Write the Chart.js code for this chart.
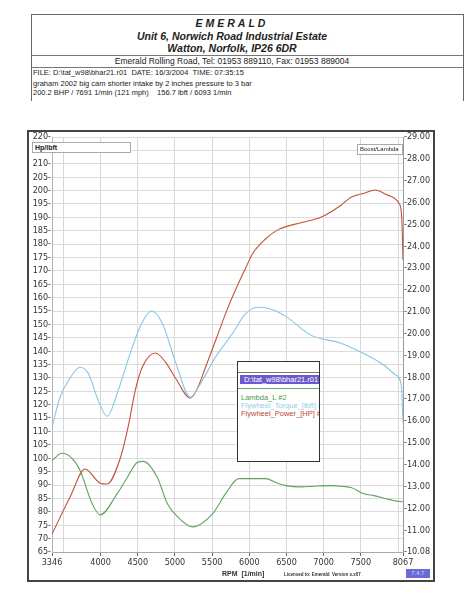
<!DOCTYPE html>
<html>
<head>
<meta charset="utf-8">
<script src="https://cdn.jsdelivr.net/npm/chart.js@4.4.1/dist/chart.umd.min.js"></script>
<style>
body { margin: 0; width: 468px; height: 600px; background: #fff; position: relative; overflow: hidden;
       font-family: "Liberation Sans", Arial, sans-serif; color: #222; }
.abs { position: absolute; white-space: nowrap; }
.ctr { text-align: center; left: 31px; width: 402px; }
#head { left: 31px; top: 14px; width: 431px; height: 86px; border: 1px solid #666; border-bottom: none; }
.hl { height: 0; border-top: 1px solid #777; left: 31px; width: 432px; }
#frame { left: 27px; top: 130px; width: 404px; height: 448px; border: 2px solid #444; }
#wrap { left: 22px; top: 128px; width: 412px; height: 458px; }
.tag { background: #fff; border: 1px solid #aaa; font-family: "Liberation Sans", Arial, sans-serif; font-size: 7px; font-weight: bold; line-height: 9px; padding-left: 2px; z-index: 3; overflow: hidden; }
#legend { left: 237px; top: 361px; width: 81px; height: 99px; border: 1px solid #333; background: #fff; z-index: 3; overflow: hidden; font-size: 7.5px; }
</style>
</head>
<body>
<div class="abs" id="head"></div>
<div class="abs ctr" style="top:17px;font-size:10.5px;font-weight:bold;font-style:italic;letter-spacing:3px">EMERALD</div>
<div class="abs ctr" style="top:30px;font-size:10.5px;font-weight:bold;font-style:italic">Unit 6, Norwich Road Industrial Estate</div>
<div class="abs ctr" style="top:42px;font-size:10.5px;font-weight:bold;font-style:italic">Watton, Norfolk, IP26 6DR</div>
<div class="abs hl" style="top:55px"></div>
<div class="abs ctr" style="top:56px;font-size:8.5px">Emerald Rolling Road, Tel: 01953 889110, Fax: 01953 889004</div>
<div class="abs hl" style="top:67px"></div>
<div class="abs" style="left:33px;top:68px;font-size:7.5px">FILE: D:\tat_w98\bhar21.r01&nbsp;&nbsp;DATE: 16/3/2004&nbsp;&nbsp;TIME: 07:35:15</div>
<div class="abs" style="left:33px;top:79px;font-size:7.5px">graham 2002 big cam shorter intake by 2 inches pressure to 3 bar</div>
<div class="abs" style="left:33px;top:88px;font-size:7.5px">200.2 BHP / 7691 1/min (121 mph)&nbsp;&nbsp;&nbsp;&nbsp;156.7 lbft / 6093 1/min</div>

<div class="abs" id="frame"></div>
<div class="abs" id="wrap"><canvas id="dyno"></canvas></div>

<div class="abs tag" style="left:32px;top:142px;width:95px;height:9px">Hp/lbft</div>
<div class="abs tag" style="left:357px;top:144px;width:42px;height:9px;font-weight:normal;font-size:6px">Boost/Lambda</div>

<div class="abs" id="legend">
  <div class="abs" style="left:0;top:10px;width:81px;border-top:1px solid #777"></div>
  <div class="abs" style="left:2px;top:13px;width:78px;height:9px;background:#6a5acd;color:#fff;line-height:9px;padding-left:4px">D:\tat_w98\bhar21.r01</div>
  <div class="abs" style="left:0;top:26px;width:81px;border-top:1px solid #6aa86a"></div>
  <div class="abs" style="left:3px;top:31px;color:#4f9a4f">Lambda_L #2</div>
  <div class="abs" style="left:3px;top:39px;color:#8fd0ea">Flywheel_Torque_[lbft] #1</div>
  <div class="abs" style="left:3px;top:47px;color:#c0452f">Flywheel_Power_[HP] #1</div>
</div>

<div class="abs" style="left:222px;top:570px;font-size:7px;font-weight:bold;color:#333">RPM&nbsp;&nbsp;[1/min]</div>
<div class="abs" style="left:284px;top:572px;font-size:4.5px;font-weight:bold;color:#333">Licensed to: Emerald&nbsp;&nbsp;Version x.x07</div>
<div class="abs" style="left:406px;top:569px;width:24px;height:9px;background:#6a6ad8;color:#cfd0ff;font-size:6px;line-height:9px;text-align:center">7.4.7</div>

<script>
// x axis: grid every 500 rpm, labels only on some
const xGridTicks = [3346, 3500, 4000, 4500, 5000, 5500, 6000, 6500, 7000, 7500, 8000, 8067];
const xLabelTicks = [3346, 4000, 4500, 5000, 5500, 6000, 6500, 7000, 7500, 8067];

// Flywheel_Power_[HP]
const powerRpm = [3346, 3589, 3791, 3994, 4088, 4264, 4372, 4466, 4560, 4736, 4870, 5006, 5208, 5300, 5411, 5560, 5708, 5856, 5950, 6045, 6221, 6396, 6693, 6963, 7233, 7368, 7543, 7691, 7867, 8015, 8050, 8067];
const powerHp = [71.7, 85.5, 96, 90.7, 90.4, 100, 112, 125.4, 134, 139.3, 136, 130, 122.5, 126, 134, 145, 156, 165.5, 171, 176.5, 182, 185.5, 188, 190, 194.5, 197.5, 199, 200.2, 198.2, 195.2, 190, 174];

// Flywheel_Torque_[lbft]
const torqueRpm = [3346, 3454, 3589, 3724, 3832, 3967, 4088, 4237, 4426, 4560, 4682, 4830, 5006, 5208, 5316, 5546, 5775, 5950, 6113, 6315, 6490, 6828, 7233, 7503, 7772, 7975, 8045, 8067];
const torqueLbft = [111.6, 122.8, 130, 134, 131.8, 121.7, 115.7, 125.4, 141.5, 150.8, 155, 150.4, 136, 122.8, 126.6, 137.8, 146.7, 154, 156.4, 155.5, 153, 146, 143, 139.6, 135.5, 131, 127, 113.5];

// Lambda_L (right axis)
const lambdaRpm = [3346, 3481, 3616, 3724, 3886, 3994, 4223, 4358, 4493, 4574, 4763, 4898, 5046, 5235, 5505, 5681, 5856, 6221, 6356, 6490, 6700, 6900, 7098, 7273, 7368, 7543, 7678, 7840, 7948, 8067];
const lambdaVal = [14.19, 14.52, 14.29, 13.73, 12.21, 11.70, 12.67, 13.41, 14.10, 14.15, 13.41, 12.21, 11.57, 11.15, 11.75, 12.67, 13.36, 13.36, 13.18, 13.04, 12.98, 13.02, 13.04, 13.0, 12.95, 12.67, 12.58, 12.44, 12.35, 12.3];

const rightBottomLabel = '10.08';

function pts(xs, ys) {
    return xs.map((x, i) => ({x: x, y: ys[i]}));
}

const tickFont = {family: '"Liberation Sans Narrow", "DejaVu Sans Condensed", "Liberation Sans", Arial', size: 9};

const ctx = document.getElementById('dyno').getContext('2d');
new Chart(ctx, {
    type: 'line',
    data: {
        datasets: [{
            label: 'Lambda_L #2',
            data: pts(lambdaRpm, lambdaVal),
            borderColor: '#5fa25f',
            yAxisID: 'y1'
        }, {
            label: 'Flywheel_Torque_[lbft] #1',
            data: pts(torqueRpm, torqueLbft),
            borderColor: '#86c8e4',
            yAxisID: 'y'
        }, {
            label: 'Flywheel_Power_[HP] #1',
            data: pts(powerRpm, powerHp),
            borderColor: '#c4503a',
            yAxisID: 'y'
        }]
    },
    options: {
        animation: false,
        responsive: true,
        maintainAspectRatio: false,
        layout: {padding: {top: 9, left: 0, right: 0, bottom: 0}},
        elements: {
            point: {radius: 0},
            line: {borderWidth: 1.1, cubicInterpolationMode: 'monotone'}
        },
        plugins: {legend: {display: false}, tooltip: {enabled: false}},
        scales: {
            x: {
                type: 'linear',
                min: 3346,
                max: 8067,
                afterBuildTicks: s => { s.ticks = xGridTicks.map(v => ({value: v})); },
                afterFit: s => { s.height = 34; },
                ticks: {
                    autoSkip: false,
                    maxRotation: 0,
                    padding: 1,
                    color: '#333',
                    font: tickFont,
                    callback: v => xLabelTicks.includes(v) ? String(v) : ''
                },
                grid: {
                    tickLength: 4,
                    color: c => (c.tick && (c.tick.value === 3346 || c.tick.value === 8067)) ? 'rgba(0,0,0,0)' : '#d8d8d8',
                    tickColor: c => (c.tick && xLabelTicks.includes(c.tick.value)) ? '#666' : 'rgba(0,0,0,0)'
                },
                border: {color: '#aaa'}
            },
            y: {
                position: 'left',
                min: 65,
                max: 220,
                afterFit: s => { s.width = 30; },
                ticks: {stepSize: 5, autoSkip: false, padding: 1, color: '#333', font: tickFont, callback: v => v + '-'},
                grid: {color: '#dcdcdc', drawTicks: false},
                border: {color: '#b5b5b5'}
            },
            y1: {
                position: 'right',
                min: 10,
                max: 29,
                afterFit: s => { s.width = 31; },
                ticks: {
                    stepSize: 1, autoSkip: false, padding: 1, color: '#333', font: tickFont,
                    callback: v => '-' + (v === 10 ? rightBottomLabel : v.toFixed(2))
                },
                grid: {drawOnChartArea: false, drawTicks: false},
                border: {color: '#999'}
            }
        }
    }
});
</script>
</body>
</html>
